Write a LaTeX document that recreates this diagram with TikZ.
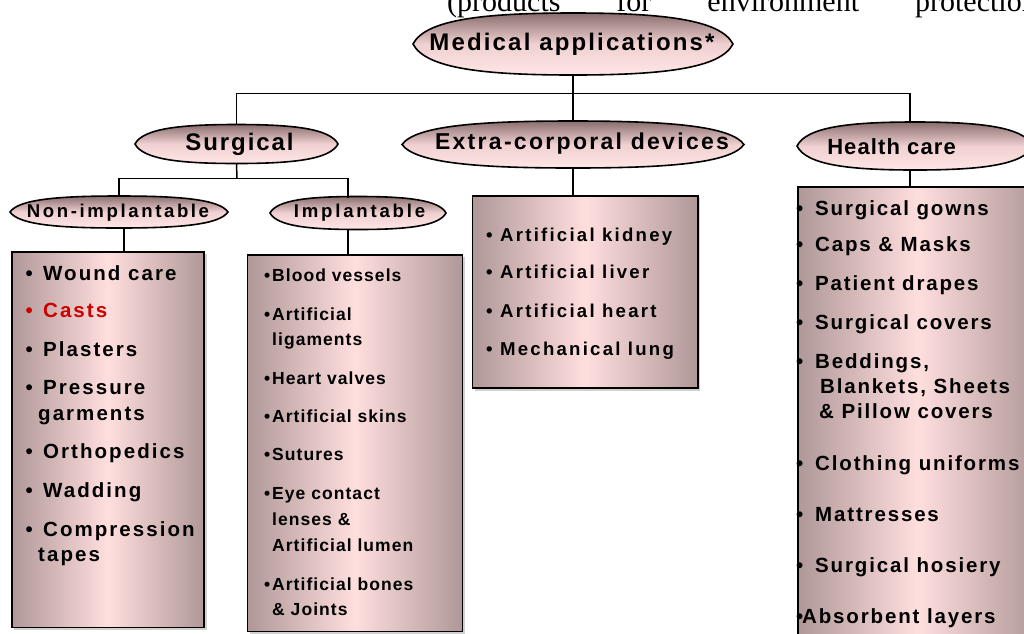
\documentclass[tikz,border=0pt]{standalone}
\usepackage{fontspec}
\setmainfont{Liberation Sans}
\newfontfamily\serifface{Liberation Serif}
\usetikzlibrary{shadows}
\definecolor{lensTop}{HTML}{8A6E6E}
\definecolor{lensMid}{HTML}{F0D0D0}
\definecolor{lensBot}{HTML}{FFE6E6}
\definecolor{boxEdge}{HTML}{B09898}
\definecolor{boxMid}{HTML}{FFDEDE}
\definecolor{castred}{HTML}{CC0000}
\newcommand\lens[5]{%
 \path[lensfill] ({#2-#4},#3) .. controls ({#2-0.92*#4},{#3-0.8*#5}) and ({#2-0.55*#4},{#3-#5}) .. ({#2},{#3-#5}) .. controls ({#2+0.55*#4},{#3-#5}) and ({#2+0.92*#4},{#3-0.8*#5}) .. ({#2+#4},#3) .. controls ({#2+0.92*#4},{#3+0.8*#5}) and ({#2+0.55*#4},{#3+#5}) .. ({#2},{#3+#5}) .. controls ({#2-0.55*#4},{#3+#5}) and ({#2-0.92*#4},{#3+0.8*#5}) .. cycle;
 \coordinate (#1-t) at (#2,{#3-#5});
 \coordinate (#1-b) at (#2,{#3+#5});
}
\newcommand\blt[1]{\makebox[#1][l]{•}}
\begin{document}
\begin{tikzpicture}[x=1pt,y=-1pt,
 lensfill/.style={draw=black,line width=1.6pt,top color=lensTop,bottom color=lensBot,middle color=lensMid},
 itembox/.style={draw=black,line width=1.6pt,left color=boxEdge,right color=boxEdge,middle color=boxMid,
   drop shadow={shadow xshift=2.5pt,shadow yshift=-2.5pt,fill=black!30,opacity=0.6},inner sep=0,anchor=north west},
 conn/.style={draw=black,line width=1.5pt},
 ltxt/.style={inner sep=0,font={\fontsize{#1}{#1}\selectfont\bfseries}},
 nitem/.style={anchor=base west,inner sep=0,font={\fontsize{20.5}{24}\selectfont\bfseries\addfontfeature{LetterSpace=10}}},
 iitem/.style={anchor=base west,inner sep=0,font={\fontsize{17.5}{20}\selectfont\bfseries\addfontfeature{LetterSpace=6}}},
 eitem/.style={anchor=base west,inner sep=0,font={\fontsize{18.6}{22}\selectfont\bfseries\addfontfeature{LetterSpace=12}}},
 hitem/.style={anchor=base west,inner sep=0,font={\fontsize{20.5}{24}\selectfont\bfseries\addfontfeature{LetterSpace=9}}}
]
\useasboundingbox (0,0) rectangle (1024,633);
\clip (0,0) rectangle (1024,633);

% top partial line of text
\node[anchor=base west,inner sep=0,font={\serifface\fontsize{30}{30}\selectfont}] (toptext) at (447,11)
 {(products\hspace{56pt}for\hspace{56pt}environment\hspace{56pt}protection)};

% connectors
\coordinate (j1) at (573,93.3);
\coordinate (j2) at (237,178.3);

% lenses
\lens{medL}{573}{44}{160}{31}
\lens{surgL}{236.5}{144}{101.5}{19.5}
\lens{extraL}{573}{144.5}{171}{23.5}
\lens{healL}{915}{146}{118}{24}
\lens{niL}{119}{212}{109}{16}
\lens{impL}{358}{213}{88}{16.5}
\coordinate (impL-tc) at (348,197.5);
\coordinate (impL-bc) at (348,228.5);
\coordinate (niL-bc) at (124,227.5);
\coordinate (healL-tc) at (910,122.5);
\coordinate (healL-bc) at (910,169.5);

\draw[conn] (medL-b) -- (j1);
\draw[conn] (surgL-t) -- (surgL-t |- j1) -- (healL-tc |- j1) -- (healL-tc);
\draw[conn] (extraL-t) -- (j1);
\draw[conn] (surgL-b) -- (j2);
\draw[conn] (niL-t |- j2) -- (impL-tc |- j2);
\draw[conn] (niL-t |- j2) -- (niL-t);
\draw[conn] (impL-tc |- j2) -- (impL-tc);

% lens labels
\node[ltxt=24,font={\fontsize{24}{24}\selectfont\bfseries\addfontfeature{LetterSpace=9}}] (med) at (572,44) {Medical applications*};
\node[ltxt=24,font={\fontsize{24}{24}\selectfont\bfseries\addfontfeature{LetterSpace=8}}] (surg) at (239.5,144) {Surgical};
\node[ltxt=23,font={\fontsize{23}{23}\selectfont\bfseries\addfontfeature{LetterSpace=10}}] (extra) at (582,144) {Extra-corporal devices};
\node[ltxt=22,font={\fontsize{22}{22}\selectfont\bfseries\addfontfeature{LetterSpace=5}}] (heal) at (891.5,147) {Health care};
\node[ltxt=18.6,font={\fontsize{18.6}{18.6}\selectfont\bfseries\addfontfeature{LetterSpace=14}}] (noni) at (118,213) {Non-implantable};
\node[ltxt=18.6,font={\fontsize{18.6}{18.6}\selectfont\bfseries\addfontfeature{LetterSpace=15}}] (impl) at (359.5,213) {Implantable};

% boxes
\node[itembox,minimum width=192.3pt,minimum height=375.7pt] (nibox) at (11,251) {};
\node[itembox,minimum width=215pt,minimum height=376.7pt] (impbox) at (246.7,254) {};
\node[itembox,minimum width=225.3pt,minimum height=192.3pt] (extbox) at (471.7,195) {};
\node[itembox,minimum width=240pt,minimum height=470pt] (healbox) at (797.3,186) {};

\draw[conn] (niL-bc) -- (niL-bc |- nibox.north);
\draw[conn] (impL-bc) -- (impL-bc |- impbox.north);
\draw[conn] (extraL-b) -- (extraL-b |- extbox.north);
\draw[conn] (healL-bc) -- (healL-bc |- healbox.north);

% non-implantable items
\node[nitem] (ni1) at (25.5,280.7) {\blt{17.5pt}Wound care};
\node[nitem,text=castred] (ni2) at (25.5,317.7) {\blt{17.5pt}Casts};
\node[nitem] (ni3) at (25.5,356.7) {\blt{17.5pt}Plasters};
\node[nitem] (ni4) at (25.5,394.5) {\blt{17.5pt}Pressure};
\node[nitem] (ni4b) at (38,420) {garments};
\node[nitem] (ni5) at (25.5,458) {\blt{17.5pt}Orthopedics};
\node[nitem] (ni6) at (25.5,497.5) {\blt{17.5pt}Wadding};
\node[nitem] (ni7) at (25.5,536) {\blt{17.5pt}Compression};
\node[nitem] (ni7b) at (38,561) {tapes};

% implantable items
\node[iitem] (im1) at (264,281) {\blt{8pt}Blood vessels};
\node[iitem] (im2) at (264,320) {\blt{8pt}Artificial};
\node[iitem] (im2b) at (272,345.5) {ligaments};
\node[iitem] (im3) at (264,384) {\blt{8pt}Heart valves};
\node[iitem] (im4) at (264,422) {\blt{8pt}Artificial skins};
\node[iitem] (im5) at (264,460) {\blt{8pt}Sutures};
\node[iitem] (im6) at (264,499) {\blt{8pt}Eye contact};
\node[iitem] (im6b) at (272,525.5) {lenses \&};
\node[iitem] (im6c) at (272,551.5) {Artificial lumen};
\node[iitem] (im7) at (264,590) {\blt{8pt}Artificial bones};
\node[iitem] (im7b) at (272,615.5) {\& Joints};

% extra-corporal items
\node[eitem] (ex1) at (486,241.5) {\blt{14pt}Artificial kidney};
\node[eitem] (ex2) at (486,278.5) {\blt{14pt}Artificial liver};
\node[eitem] (ex3) at (486,317) {\blt{14pt}Artificial heart};
\node[eitem] (ex4) at (486,355) {\blt{14pt}Mechanical lung};

% health care items
\node[hitem] (hc1) at (796,215) {\blt{19pt}Surgical gowns};
\node[hitem] (hc2) at (796,251.5) {\blt{19pt}Caps \& Masks};
\node[hitem] (hc3) at (796,290) {\blt{19pt}Patient drapes};
\node[hitem] (hc4) at (796,329) {\blt{19pt}Surgical covers};
\node[hitem] (hc5) at (796,368) {\blt{19pt}Beddings,};
\node[hitem] (hc5b) at (820,393) {Blankets, Sheets};
\node[hitem] (hc5c) at (819,418) {\& Pillow covers};
\node[hitem] (hc6) at (796,470) {\blt{19pt}Clothing uniforms};
\node[hitem] (hc7) at (796,521) {\blt{19pt}Mattresses};
\node[hitem] (hc8) at (796,572) {\blt{19pt}Surgical hosiery};
\node[hitem] (hc9) at (796,623) {\blt{6pt}Absorbent layers};
\end{tikzpicture}
\end{document}
